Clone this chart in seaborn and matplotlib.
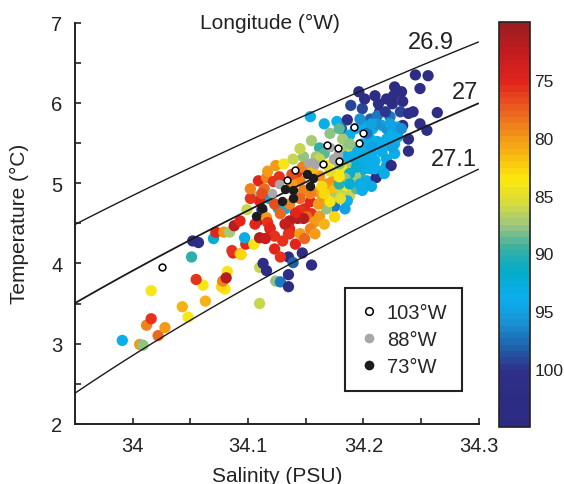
import numpy as np
import pandas as pd
import seaborn as sns
import matplotlib.pyplot as plt
import matplotlib.ticker as mtick
from matplotlib.colors import LinearSegmentedColormap, Normalize
from matplotlib.cm import ScalarMappable
from matplotlib.lines import Line2D

# station data: salinity (PSU), temperature (C), longitude (W)
sal = [
    33.991, 34.006, 34.009, 34.012, 34.016, 34.022, 34.028, 34.016, 34.043, 34.048,
    34.063, 34.061, 34.055, 34.051, 34.052, 34.057, 34.070, 34.072, 34.079, 34.084,
    34.078, 34.082, 34.080, 34.077, 34.078, 34.081, 34.087, 34.086, 34.093, 34.094,
    34.098, 34.097, 34.105, 34.110, 34.110, 34.113, 34.116, 34.110, 34.124, 34.128,
    34.135, 34.135, 34.135, 34.139, 34.130, 34.119, 34.136, 34.147, 34.155, 34.088,
    34.109, 34.116, 34.124, 34.131, 34.122, 34.108, 34.118, 34.110, 34.126, 34.112,
    34.099, 34.109, 34.116, 34.117, 34.119, 34.184, 34.178, 34.190, 34.197, 34.203,
    34.207, 34.216, 34.220, 34.214, 34.203, 34.197, 34.193, 34.211, 34.220, 34.145,
    34.143, 34.162, 34.168, 34.173, 34.174, 34.181, 34.186, 34.188, 34.194, 34.175,
    34.165, 34.186, 34.175, 34.148, 34.161, 34.154, 34.149, 34.145, 34.155, 34.162,
    34.151, 34.148, 34.143, 34.141, 34.136, 34.136, 34.135, 34.158, 34.132, 34.168,
    34.171, 34.154, 34.166, 34.177, 34.186, 34.181, 34.196, 34.189, 34.199, 34.210,
    34.213, 34.220, 34.206, 34.214, 34.200, 34.208, 34.216, 34.212, 34.220, 34.188,
    34.155, 34.162, 34.182, 34.186, 34.190, 34.195, 34.203, 34.175, 34.139, 34.148,
    34.169, 34.147, 34.245, 34.256, 34.226, 34.233, 34.225, 34.234, 34.232, 34.243,
    34.264, 34.239, 34.234, 34.255, 34.239, 34.239, 34.212, 34.211, 34.223, 34.220,
    34.224, 34.225, 34.229, 34.227, 34.206, 34.201, 34.210, 34.227, 34.193, 34.206,
    34.188, 34.184, 34.197, 34.193, 34.203, 34.171, 34.166, 34.179, 34.159, 34.128,
    34.123, 34.136, 34.114, 34.138, 34.127, 34.132, 34.123, 34.154, 34.145, 34.164,
    34.156, 34.184, 34.190, 34.199, 34.207, 34.217, 34.225, 34.230, 34.233, 34.223,
    34.207, 34.197, 34.201, 34.210, 34.218, 34.194, 34.199, 34.207, 34.188, 34.179,
    34.184, 34.112, 34.102, 34.106, 34.115, 34.123, 34.128, 34.141, 34.149, 34.158,
    34.166, 34.175, 34.180, 34.166, 34.145, 34.154, 34.161, 34.138, 34.117, 34.102,
    34.093, 34.145, 34.162, 34.188, 34.179, 34.171, 34.179, 34.249, 34.227, 34.219,
    34.249, 34.201,
]
temp = [
    3.04, 2.99, 2.98, 3.23, 3.31, 3.10, 3.20, 3.66, 3.46, 3.33,
    3.53, 3.73, 3.80, 4.08, 4.28, 4.26, 4.31, 4.39, 4.39, 4.39,
    3.75, 3.90, 3.68, 3.71, 3.78, 3.82, 4.13, 4.16, 4.12, 4.11,
    4.24, 4.32, 4.24, 4.32, 3.95, 4.00, 3.91, 3.50, 3.78, 3.77,
    3.71, 3.86, 4.08, 4.01, 4.28, 4.43, 4.37, 4.13, 3.98, 4.47,
    5.03, 5.07, 5.22, 5.24, 5.02, 4.83, 4.81, 4.78, 4.69, 4.67,
    4.67, 4.54, 4.57, 4.51, 4.44, 5.20, 5.12, 5.24, 5.24, 5.28,
    5.37, 5.39, 5.30, 5.15, 5.03, 5.12, 5.09, 5.07, 5.22, 5.03,
    5.14, 5.09, 4.99, 5.02, 4.91, 4.89, 4.96, 4.84, 4.93, 4.81,
    4.81, 4.78, 4.71, 4.91, 4.89, 4.77, 4.68, 4.66, 4.62, 4.59,
    4.58, 4.56, 4.56, 4.63, 4.53, 4.43, 4.37, 4.52, 4.68, 4.68,
    4.77, 5.83, 5.74, 5.77, 5.79, 5.68, 6.14, 5.97, 5.93, 6.09,
    5.99, 6.05, 5.80, 5.89, 5.72, 5.68, 5.72, 5.52, 5.55, 5.60,
    5.53, 5.44, 5.55, 5.45, 5.43, 5.40, 5.45, 5.30, 5.30, 5.33,
    5.22, 5.20, 6.35, 6.34, 6.09, 6.14, 5.99, 6.02, 5.89, 5.89,
    5.88, 5.87, 5.72, 5.66, 5.55, 5.40, 5.84, 5.74, 5.83, 5.68,
    5.22, 5.62, 5.70, 5.49, 5.55, 5.34, 5.28, 5.37, 5.30, 5.18,
    5.12, 5.06, 4.99, 5.68, 5.62, 5.62, 5.37, 5.24, 5.33, 4.62,
    4.74, 4.74, 4.93, 4.99, 5.08, 4.49, 4.34, 4.43, 4.37, 4.96,
    5.18, 5.33, 5.33, 5.49, 5.45, 5.45, 5.45, 5.58, 5.68, 5.74,
    5.74, 5.80, 5.18, 5.18, 5.12, 5.20, 4.91, 4.96, 4.99, 4.99,
    4.68, 4.87, 4.81, 4.49, 4.31, 4.18, 4.08, 4.24, 4.31, 4.37,
    4.49, 4.58, 4.81, 4.87, 4.81, 4.87, 4.74, 5.11, 5.15, 4.93,
    4.53, 5.43, 5.30, 5.49, 5.68, 5.15, 5.08, 6.18, 6.20, 5.89,
    5.74, 6.05,
]
lon = [
    94, 80, 88, 79, 76, 78, 80, 84, 81, 84,
    81, 84, 76, 90, 102, 102, 92, 75, 80, 87,
    82, 84, 84, 83, 79, 72, 75, 76, 80, 83,
    75, 93, 84, 72, 86, 102, 102, 86, 88, 97,
    102, 102, 102, 98, 76, 73, 75, 102, 102, 72,
    75, 79, 80, 84, 76, 88, 95, 75, 94, 102,
    86, 72, 80, 76, 75, 84, 84, 87, 93, 94,
    94, 94, 93, 90, 94, 90, 87, 102, 94, 79,
    76, 80, 80, 80, 82, 86, 84, 86, 89, 87,
    80, 94, 97, 79, 80, 75, 75, 76, 76, 80,
    78, 72, 72, 75, 72, 75, 76, 80, 93, 88,
    84, 94, 94, 94, 101, 98, 102, 99, 99, 102,
    101, 102, 98, 102, 94, 94, 95, 94, 94, 94,
    87, 90, 87, 87, 86, 94, 90, 88, 86, 88,
    84, 79, 102, 102, 101, 102, 103, 102, 99, 102,
    102, 101, 102, 102, 102, 102, 97, 96, 97, 96,
    102, 94, 95, 94, 94, 93, 94, 94, 93, 94,
    91, 88, 93, 94, 97, 88, 89, 88, 87, 78,
    77, 79, 78, 80, 76, 73, 76, 79, 80, 83,
    82, 93, 94, 94, 95, 94, 95, 94, 96, 95,
    95, 96, 93, 94, 93, 92, 94, 93, 92, 90,
    95, 77, 76, 75, 73, 75, 76, 75, 78, 80,
    81, 83, 85, 83, 78, 79, 80, 77, 80, 79,
    75, 86, 86, 88, 89, 85, 84, 102, 102, 100,
    101, 102,
]

# highlighted sections
s103 = [34.025, 34.134, 34.141, 34.165, 34.179, 34.168, 34.178, 34.192, 34.200, 34.196]
t103 = [3.96, 5.04, 5.16, 5.24, 5.28, 5.48, 5.44, 5.70, 5.62, 5.50]
s88 = [34.127, 34.121, 34.152, 34.158, 34.178, 34.171, 34.178, 34.174, 34.155]
t88 = [4.99, 4.88, 5.25, 5.24, 5.34, 5.45, 5.38, 5.30, 5.27]
s73 = [34.107, 34.112, 34.129, 34.132, 34.139, 34.139, 34.151, 34.156, 34.154]
t73 = [4.59, 4.69, 4.78, 4.93, 4.91, 4.81, 5.12, 5.06, 4.96]

# isopycnal levels (sigma-0, kg/m3 - 1000)
sigma_levels = [26.9, 27.0, 27.1]
sigma_labels = ['26.9', '27', '27.1']


def sigma0(S, T):
    # UNESCO EOS-80 at surface pressure
    rw = (999.842594 + 6.793952e-2 * T - 9.095290e-3 * T**2 + 1.001685e-4 * T**3
          - 1.120083e-6 * T**4 + 6.536332e-9 * T**5)
    a = 8.24493e-1 - 4.0899e-3 * T + 7.6438e-5 * T**2 - 8.2467e-7 * T**3 + 5.3875e-9 * T**4
    b = -5.72466e-3 + 1.0227e-4 * T - 1.6546e-6 * T**2
    c = 4.8314e-4
    return rw + a * S + b * S**1.5 + c * S**2 - 1000


sns.set_style("ticks")
plt.rcParams['font.family'] = ['Liberation Sans', 'DejaVu Sans']

cb_nodes = [
    (70, '#9c1d20'), (72.5, '#c51c1f'), (75, '#e3241b'), (77.5, '#ec6220'),
    (80, '#f39a17'), (82, '#f9c60e'), (83.5, '#fde80d'), (85.5, '#d9dc3a'),
    (87.5, '#9fc77e'), (89.5, '#3bb0a2'), (91.5, '#05acc9'), (94, '#0aaeec'),
    (96, '#1895d6'), (98, '#1e67b0'), (99.7, '#2a3f93'), (100.3, '#2e2f88'),
    (105, '#2d2a82'),
]
cmap = LinearSegmentedColormap.from_list(
    'lon', [((v - 70) / 35, c) for v, c in cb_nodes], N=64)
norm = Normalize(70, 105)

fig = plt.figure(figsize=(5.64, 4.85), dpi=100)
ax = fig.add_axes([0.133, 0.124, 0.716, 0.827])
cax = fig.add_axes([0.885, 0.1175, 0.055, 0.835])

df = pd.DataFrame({'Salinity': sal, 'Temperature': temp, 'Longitude': lon})
sns.scatterplot(data=df, x='Salinity', y='Temperature', hue='Longitude',
                palette=cmap, hue_norm=norm, s=66, linewidth=0,
                legend=False, ax=ax, zorder=3)

Sg, Tg = np.meshgrid(np.linspace(33.95, 34.3, 300), np.linspace(2, 7, 300))
ax.contour(Sg, Tg, sigma0(Sg, Tg), levels=sigma_levels, colors='#1a1a1a',
           linewidths=[1.0, 1.3, 1.0], zorder=4)

ax.scatter(s88, t88, s=46, color='#a8a8a8', linewidth=0, zorder=5)
ax.scatter(s73, t73, s=46, color='#1c1c1c', linewidth=0, zorder=5)
ax.scatter(s103, t103, s=24, facecolor='white', edgecolor='black',
           linewidth=1.1, zorder=6)

for (x, y), lab in zip([(34.2586, 6.76), (34.288, 6.14), (34.278, 5.30)], sigma_labels):
    ax.text(x, y, lab, fontsize=17, ha='center', va='center', color='#222')

ax.set_xlim(33.95, 34.3)
ax.set_ylim(2, 7)
ax.xaxis.set_major_locator(mtick.FixedLocator([34, 34.1, 34.2, 34.3]))
ax.xaxis.set_major_formatter(mtick.FixedFormatter(['34', '34.1', '34.2', '34.3']))
ax.xaxis.set_minor_locator(mtick.FixedLocator([34.05, 34.15, 34.25]))
ax.yaxis.set_major_locator(mtick.MultipleLocator(1))
ax.yaxis.set_minor_locator(mtick.MultipleLocator(0.5))
ax.tick_params(which='both', direction='in', length=4, width=1.2,
               color='#222', labelsize=14.5, labelcolor='#222')
ax.tick_params(axis='x', pad=9)
ax.tick_params(axis='y', pad=9)
sns.despine(ax=ax)
for sp in ['left', 'bottom']:
    ax.spines[sp].set_linewidth(1.4)
    ax.spines[sp].set_color('#222')

ax.set_xlabel('Salinity (PSU)', fontsize=15, color='#222')
ax.set_ylabel('Temperature (°C)', fontsize=15, color='#222')
ax.xaxis.set_label_coords(0.5, -0.105)
ax.yaxis.set_label_coords(-0.115, 0.5)

ax.text(0.483, 1.0, 'Longitude (°W)', transform=ax.transAxes, fontsize=15,
        ha='center', va='center', color='#222')

handles = [
    Line2D([], [], marker='o', ls='', mfc='white', mec='black', ms=5.5, mew=1.1),
    Line2D([], [], marker='o', ls='', mfc='#a8a8a8', mec='none', ms=7),
    Line2D([], [], marker='o', ls='', mfc='#1c1c1c', mec='none', ms=7),
]
leg = ax.legend(handles, ['103°W', '88°W', '73°W'], loc='center',
                bbox_to_anchor=(0.8145, 0.2095), frameon=True, fancybox=False,
                edgecolor='#222', fontsize=14.5, handlelength=0.8,
                handletextpad=0.5, labelspacing=0.4, borderpad=0.75,
                framealpha=1)
leg.get_frame().set_linewidth(1.5)

sm = ScalarMappable(norm=norm, cmap=cmap)
cb = fig.colorbar(sm, cax=cax, ticks=[75, 80, 85, 90, 95, 100])
cax.invert_yaxis()
cax.tick_params(direction='in', length=4, width=1, left=True, right=True,
                labelsize=12.5, color='#222', labelcolor='#222', pad=3)
cb.outline.set_linewidth(1.2)
cb.outline.set_edgecolor('#222')

fig.savefig('out.png', dpi=100)
